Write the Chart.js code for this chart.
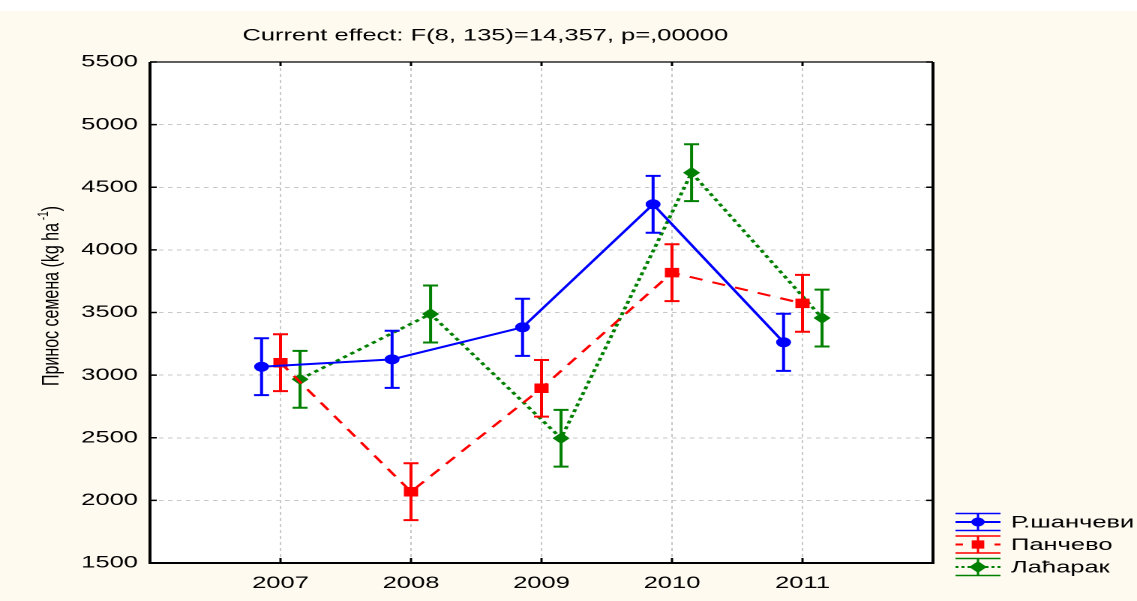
<!DOCTYPE html>
<html>
<head>
<meta charset="utf-8">
<script src="https://cdn.jsdelivr.net/npm/chart.js@4.4.1/dist/chart.umd.min.js"></script>
<style>
  body { margin: 0; background: #fffaf0; }
  canvas { display: block; }
</style>
</head>
<body>
<canvas id="grafico" width="758" height="601" style="width:1137px;height:601px"></canvas>
<script>
// dados
const anos = [2007, 2008, 2009, 2010, 2011];
const yTicks = [1500, 2000, 2500, 3000, 3500, 4000, 4500, 5000, 5500];
const nomes = ["Р.шанчеви", "Панчево", "Лаћарак"];
const sancevi = [3067, 3126, 3382, 4364, 3262];
const pancevo = [3099, 2069, 2895, 3818, 3573];
const lacarak = [2967, 3488, 2496, 4616, 3456];
const erroSancevi = [227, 228, 228, 227, 228];
const erroPancevo = [227, 227, 226, 227, 227];
const erroLacarak = [227, 228, 227, 227, 227];
const titulo = "Current effect: F(8, 135)=14,357, p=,00000";
const tituloY = "Принос семена (kg ha";

const fonte = '"Liberation Sans", Arial, sans-serif';
const canvas = document.getElementById("grafico");

function pontos(valores, desloc) {
  return anos.map((a, i) => ({ x: a + desloc, y: valores[i] }));
}

const fundo = {
  id: "fundo",
  beforeDraw(chart) {
    const { ctx, chartArea: a } = chart;
    ctx.save();
    ctx.fillStyle = "#fffaf0";
    ctx.fillRect(0, 0, chart.width, chart.height);
    ctx.fillStyle = "#ffffff";
    ctx.fillRect(0, 0, chart.width, 11);
    ctx.fillRect(a.left, a.top, a.right - a.left, a.bottom - a.top);
    ctx.restore();
  },
};

const barras = {
  id: "barras",
  afterDatasetDraw(chart, args) {
    const ds = chart.data.datasets[args.index];
    const y = chart.scales.y;
    const ctx = chart.ctx;
    ctx.save();
    ctx.strokeStyle = ds.borderColor;
    ctx.lineWidth = 2;
    args.meta.data.forEach((p, i) => {
      const v = ds.data[i].y;
      const e = ds.erros[i];
      const top = y.getPixelForValue(v + e);
      const bot = y.getPixelForValue(v - e);
      ctx.beginPath();
      ctx.moveTo(p.x, top);
      ctx.lineTo(p.x, bot);
      ctx.moveTo(p.x - 5, top);
      ctx.lineTo(p.x + 5, top);
      ctx.moveTo(p.x - 5, bot);
      ctx.lineTo(p.x + 5, bot);
      ctx.stroke();
    });
    ctx.restore();
  },
};

const moldura = {
  id: "moldura",
  afterDraw(chart) {
    const { ctx, chartArea: a, scales } = chart;
    ctx.save();
    ctx.strokeStyle = "#000";
    // ticks para dentro
    ctx.lineWidth = 1.5;
    ctx.beginPath();
    scales.y.ticks.forEach((t) => {
      const py = scales.y.getPixelForValue(t.value);
      ctx.moveTo(a.left, py);
      ctx.lineTo(a.left + 4.5, py);
      ctx.moveTo(a.right, py);
      ctx.lineTo(a.right - 4.5, py);
    });
    scales.x.ticks.forEach((t) => {
      const px = scales.x.getPixelForValue(t.value);
      ctx.moveTo(px, a.bottom);
      ctx.lineTo(px, a.bottom - 5);
      ctx.moveTo(px, a.top);
      ctx.lineTo(px, a.top + 4);
    });
    ctx.stroke();
    ctx.lineWidth = 1.2;
    ctx.beginPath();
    ctx.moveTo(a.left, a.top);
    ctx.lineTo(a.right, a.top);
    ctx.stroke();
    ctx.lineWidth = 2;
    ctx.beginPath();
    ctx.moveTo(a.left, a.top);
    ctx.lineTo(a.left, a.bottom);
    ctx.lineTo(a.right, a.bottom);
    ctx.lineTo(a.right, a.top);
    ctx.stroke();

    // titulo
    ctx.fillStyle = "#000";
    ctx.font = "17px " + fonte;
    ctx.textAlign = "center";
    ctx.textBaseline = "alphabetic";
    ctx.fillText(titulo, 323.5, 40.5);

    // titulo do eixo y
    ctx.save();
    ctx.translate(39, 296);
    ctx.rotate(-Math.PI / 2);
    ctx.font = "16px " + fonte;
    const w1 = ctx.measureText(tituloY).width;
    ctx.font = "10px " + fonte;
    const w2 = ctx.measureText(" -1").width;
    ctx.font = "16px " + fonte;
    const w3 = ctx.measureText(")").width;
    let x0 = -(w1 + w2 + w3) / 2;
    ctx.textAlign = "left";
    ctx.fillText(tituloY, x0, 0);
    ctx.font = "10px " + fonte;
    ctx.fillText(" -1", x0 + w1, -7);
    ctx.font = "16px " + fonte;
    ctx.fillText(")", x0 + w1 + w2, 0);
    ctx.restore();

    // legenda
    const linhas = [522, 544.5, 567];
    chart.data.datasets.forEach((ds, i) => {
      const ly = linhas[i];
      const xa = 637, xb = 667, xm = 652;
      ctx.strokeStyle = ds.borderColor;
      ctx.lineWidth = 1.5;
      ctx.setLineDash([]);
      ctx.beginPath();
      ctx.moveTo(xa, ly - 8.5);
      ctx.lineTo(xb, ly - 8.5);
      ctx.moveTo(xa, ly + 8.5);
      ctx.lineTo(xb, ly + 8.5);
      ctx.moveTo(xm, ly - 8.5);
      ctx.lineTo(xm, ly + 8.5);
      ctx.stroke();
      ctx.lineWidth = 2;
      ctx.beginPath();
      if (i === 1) {
        ctx.moveTo(xa, ly);
        ctx.lineTo(xa + 5, ly);
        ctx.moveTo(xb - 4, ly);
        ctx.lineTo(xb, ly);
      } else {
        if (i === 2) ctx.setLineDash([2, 2]);
        ctx.moveTo(xa, ly);
        ctx.lineTo(xb, ly);
      }
      ctx.stroke();
      ctx.setLineDash([]);
      ctx.fillStyle = ds.borderColor;
      Chart.helpers.drawPoint(ctx, {
        pointStyle: ds.pointStyle,
        radius: ds.legendRadius,
        rotation: 0,
        borderWidth: 1,
      }, xm, ly);
      ctx.fill();
      ctx.fillStyle = "#000";
      ctx.font = "17px " + fonte;
      ctx.textAlign = "left";
      ctx.textBaseline = "middle";
      ctx.fillText(ds.label, 674, ly + 1);
    });
    ctx.restore();
  },
};

new Chart(canvas, {
  type: "line",
  data: {
    datasets: [
      {
        label: nomes[0],
        data: pontos(sancevi, -0.145),
        erros: erroSancevi,
        borderColor: "#0000ff",
        backgroundColor: "#0000ff",
        borderWidth: 2,
        pointStyle: "circle",
        pointRadius: 4.5,
        pointBorderWidth: 1,
        legendRadius: 3.5,
      },
      {
        label: nomes[1],
        data: pontos(pancevo, 0),
        erros: erroPancevo,
        borderColor: "#ff0000",
        backgroundColor: "#ff0000",
        borderWidth: 2,
        borderDash: [9, 7],
        pointStyle: "rect",
        pointRadius: 6,
        pointBorderWidth: 1,
        legendRadius: 4.5,
      },
      {
        label: nomes[2],
        data: pontos(lacarak, 0.15),
        erros: erroLacarak,
        borderColor: "#008000",
        backgroundColor: "#008000",
        borderWidth: 2.5,
        borderDash: [3, 3],
        pointStyle: "rectRot",
        pointRadius: 5,
        pointBorderWidth: 1,
        legendRadius: 4.5,
      },
    ],
  },
  options: {
    responsive: false,
    animation: false,
    devicePixelRatio: 2,
    layout: { padding: { top: 62, right: 136, left: 0, bottom: 0 } },
    plugins: {
      legend: { display: false },
      title: { display: false },
      tooltip: { enabled: false },
    },
    scales: {
      x: {
        type: "linear",
        min: 2006,
        max: 2012,
        afterBuildTicks: (s) => { s.ticks = anos.map((v) => ({ value: v })); },
        afterFit: (s) => { s.height = 38; },
        grid: { color: "#c8c8c8", lineWidth: 1, drawTicks: false },
        border: { display: false, dash: [3, 3] },
        ticks: {
          color: "#000",
          padding: 10,
          font: { family: fonte, size: 17 },
          callback: (v) => String(v),
        },
      },
      y: {
        min: 1500,
        max: 5500,
        afterBuildTicks: (s) => { s.ticks = yTicks.map((v) => ({ value: v })); },
        afterFit: (s) => { s.width = 100; },
        grid: { color: "#c8c8c8", lineWidth: 1, drawTicks: false },
        border: { display: false, dash: [3, 3] },
        ticks: {
          color: "#000",
          padding: 8,
          font: { family: fonte, size: 17 },
          callback: (v) => String(v),
        },
      },
    },
  },
  plugins: [fundo, barras, moldura],
});
</script>
</body>
</html>
